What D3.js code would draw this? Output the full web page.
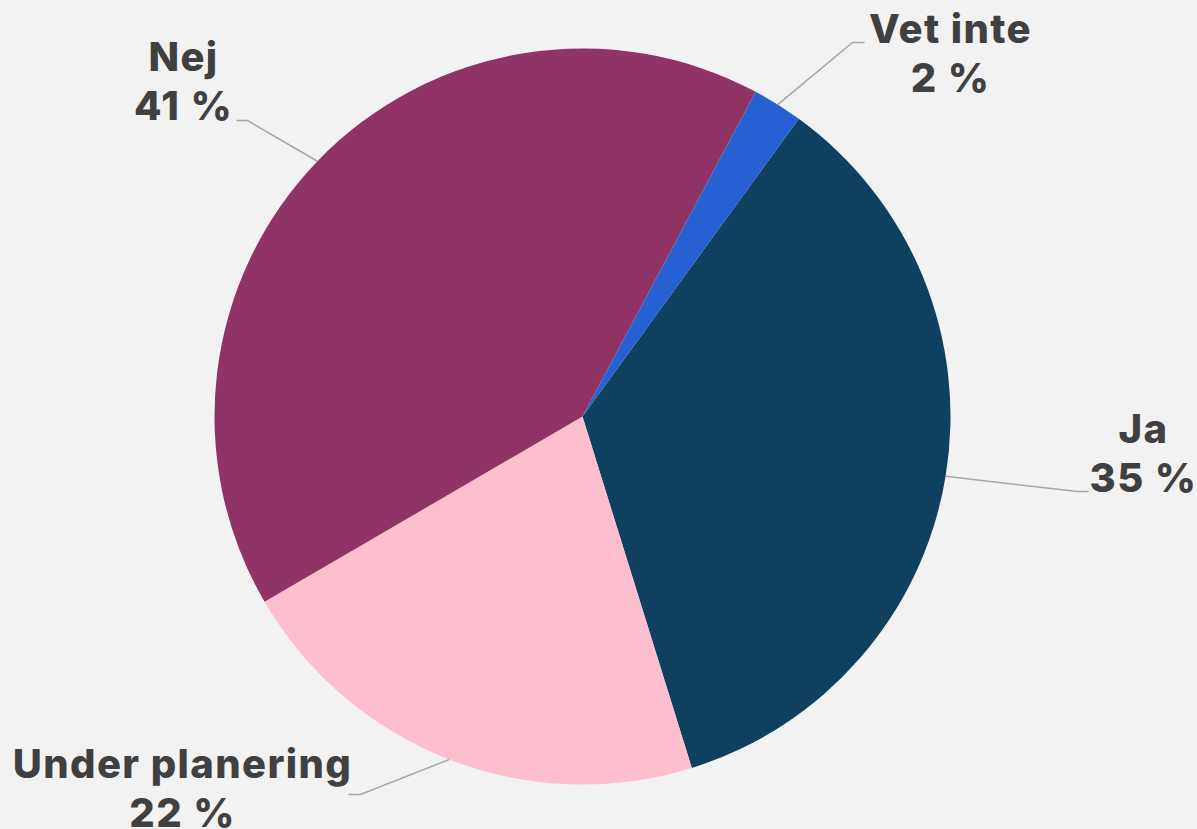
<!DOCTYPE html>
<html><head><meta charset="utf-8">
<script src="https://cdn.jsdelivr.net/npm/d3@7"></script>
<style>
html,body{margin:0;padding:0;background:#f2f2f2;}
svg{display:block;}
</style></head>
<body>
<svg id="chart" width="1197" height="829"></svg>
<script>
// Data
const categories = ["Ja", "Under planering", "Nej", "Vet inte"];
const values = [35.2, 21.4, 41.2, 2.2];
const percentLabels = ["35 %", "22 %", "41 %", "2 %"];
const colors = ["#0f4060", "#fdbfce", "#8f3465", "#2660d2"];

// Layout (label anchor positions, relative to chart centre)
const labelLayout = [
  {dx: 561, bendDx: 495, bendDy: 75,  endDx: 506, anchorDy: 26},    // Ja
  {dx: -400, bendDx: -222, bendDy: 378, endDx: -234, anchorDy: 361}, // Under planering
  {dx: -399, bendDx: -335, bendDy: -296, endDx: -346, anchorDy: -346}, // Nej
  {dx: 368, bendDx: 270, bendDy: -374, endDx: 282, anchorDy: -374}   // Vet inte
];

const W = 1197, H = 829;
const cx = 582.5, cy = 416.5, R = 368;
const svg = d3.select("#chart");
svg.append("rect").attr("width", W).attr("height", H).attr("fill", "#f2f2f2");
const g = svg.append("g").attr("transform", `translate(${cx},${cy})`);

const startA = 36 * Math.PI / 180;
const pie = d3.pie().sort(null).value(d => d)
  .startAngle(startA).endAngle(startA + 2 * Math.PI);
const arcs = pie(values);
const arc = d3.arc().innerRadius(0).outerRadius(R);
const edge = d3.arc().innerRadius(R).outerRadius(R);

g.selectAll("path.slice").data(arcs).enter().append("path")
  .attr("class", "slice")
  .attr("d", arc)
  .attr("fill", (d, i) => colors[i]);

// leader lines
arcs.forEach((a, i) => {
  const p = edge.centroid(a);
  const L = labelLayout[i];
  g.append("polyline")
    .attr("points", [[p[0], p[1]], [L.bendDx, L.bendDy], [L.endDx, L.bendDy]].map(q => q.join(",")).join(" "))
    .attr("fill", "none").attr("stroke", "#a6a6a6").attr("stroke-width", 1.5);
});

// label text
arcs.forEach((a, i) => {
  const L = labelLayout[i];
  const t = g.append("text")
    .attr("x", L.dx).attr("y", L.anchorDy)
    .attr("text-anchor", "middle")
    .attr("font-family", "Inter, 'Noto Sans', sans-serif")
    .attr("font-weight", 800)
    .attr("font-size", 40)
    .attr("letter-spacing", 1.4)
    .attr("fill", "#404040");
  t.append("tspan").attr("x", L.dx).attr("dy", 0).text(categories[i]);
  t.append("tspan").attr("x", L.dx).attr("dy", 49).text(percentLabels[i]);
});
</script>
</body></html>
